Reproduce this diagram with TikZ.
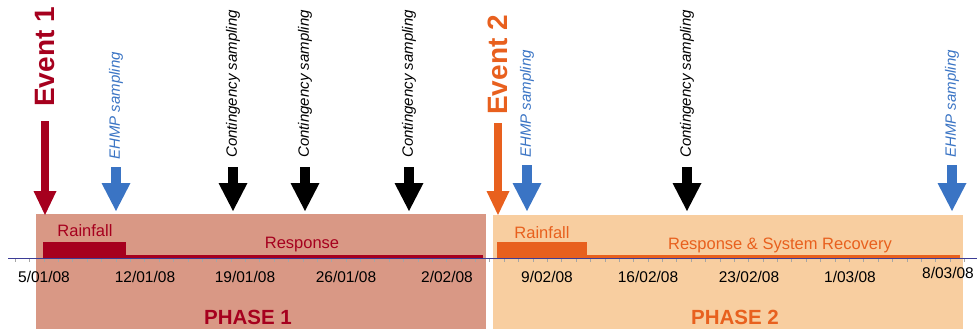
\documentclass[tikz,border=0pt]{standalone}
\usepackage{fontspec}
\setmainfont{Liberation Sans}
\usepackage{xcolor}
\usetikzlibrary{arrows.meta,positioning}

\definecolor{evred}{RGB}{166,0,30}
\definecolor{evorange}{RGB}{232,96,30}
\definecolor{ehmpblue}{RGB}{58,116,196}
\definecolor{phaseonefill}{RGB}{217,152,133}
\definecolor{phasetwofill}{RGB}{248,206,160}
\definecolor{axisblue}{RGB}{60,60,150}

\begin{document}
\begin{tikzpicture}[x=1pt, y=-1pt,
  ttl/.style={font=\fontsize{20.5}{22}\selectfont\bfseries, inner sep=0pt},
  evlbl/.style={font=\fontsize{28}{30}\selectfont\bfseries, rotate=90, anchor=west, inner sep=0pt},
  smplbl/.style={font=\fontsize{15}{17}\selectfont\itshape, rotate=90, anchor=west, inner sep=0pt},
  barlbl/.style={font=\fontsize{16.5}{18}\selectfont, inner sep=0pt},
  datelbl/.style={font=\fontsize{15.5}{17}\selectfont, inner sep=0pt},
  smparr/.style={line width=10.5pt, -{Triangle[length=28pt 0 0, width=29pt 0 0, line width=0pt]}},
  evarr/.style={line width=8pt, -{Triangle[length=24pt 0 0, width=23pt 0 0, line width=0pt]}}
]
\useasboundingbox (0,0) rectangle (977,329);

% the two phases
\fill[phaseonefill] (36,214) rectangle (486,329);
\fill[phasetwofill] (493,215) rectangle (963,329);
\node[ttl, text=evred] (ph1) at (248,317) {PHASE 1};
\node[ttl, text=evorange] (ph2) at (735,317) {PHASE 2};

% rainfall and response bars
\fill[evred] (43,242) rectangle (126,258);
\fill[evred] (126,254.5) rectangle (483,258);
\fill[evorange] (497,242) rectangle (587,258);
\fill[evorange] (587,254.5) rectangle (960,258);
\node[barlbl, text=evred] (rainA) at (85,231) {Rainfall};
\node[barlbl, text=evred] (respA) at (302,245) {Response};
\node[barlbl, text=evorange] (rainB) at (542,233) {Rainfall};
\node[barlbl, text=evorange] (respB) at (780,245) {Response \& System Recovery};

% time axis, one tick per day
\foreach \d in {-2,...,64}
  \draw[gray!70, line width=0.6pt] (44+14.38*\d,258) -- (44+14.38*\d,262);
\draw[axisblue, line width=1pt] (8,258) -- (977,258);
\foreach \x/\y/\t in {44/277/{5/01/08}, 145/277/{12/01/08}, 245/277/{19/01/08},
    346/277/{26/01/08}, 447/277/{2/02/08}, 547/277/{9/02/08}, 648/277/{16/02/08},
    749/277/{23/02/08}, 850/277/{1/03/08}, 948/273/{8/03/08}}
  \node[datelbl] at (\x,\y) {\t};

% events and samplings
\coordinate (evtip) at (0,215);
\coordinate (smptip) at (0,211);

\node[evlbl, text=evred] (ev1) at (45,107) {Event 1};
\node[evlbl, text=evorange] (ev2) at (498,115) {Event 2};
\draw[evarr, evred] ([yshift=-14pt]ev1.west) -- (ev1.west |- evtip);
\draw[evarr, evorange, line width=7.5pt] ([yshift=-8pt]ev2.west) -- (ev2.west |- evtip);

\node[smplbl, text=ehmpblue] (ehmpA) at (116,160) {EHMP sampling};
\node[smplbl, text=ehmpblue] (ehmpB) at (527,158) {EHMP sampling};
\node[smplbl, text=ehmpblue] (ehmpC) at (952,158) {EHMP sampling};
\node[smplbl] (contA) at (233,158) {Contingency sampling};
\node[smplbl] (contB) at (305,158) {Contingency sampling};
\node[smplbl] (contC) at (409,158) {Contingency sampling};
\node[smplbl] (contD) at (687,158) {Contingency sampling};

\foreach \n in {ehmpA,ehmpB,ehmpC}
  \draw[smparr, ehmpblue, line width=9.5pt] ([yshift=-7pt]\n.west) -- (\n.west |- smptip);
\foreach \n in {contA,contB,contC,contD}
  \draw[smparr, black] ([yshift=-9pt]\n.west) -- (\n.west |- smptip);
\end{tikzpicture}
\end{document}
